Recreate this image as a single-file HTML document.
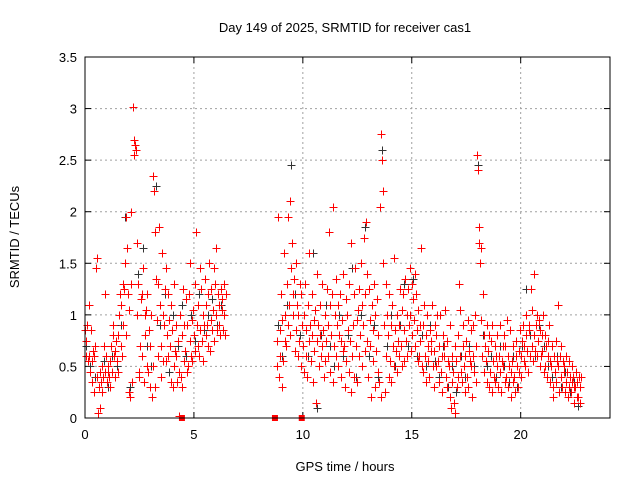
<!DOCTYPE html>
<html><head><meta charset="utf-8"><style>
body{margin:0;background:#fff}
svg{display:block;font-family:"Liberation Sans",sans-serif}
</style></head><body>
<svg id="chart" width="640" height="480" viewBox="0 0 640 480">
<rect width="640" height="480" fill="#fff"/>
<text x="345" y="32" font-size="13" text-anchor="middle">Day 149 of 2025, SRMTID for receiver cas1</text>
<text transform="translate(19,237) rotate(-90)" font-size="13" text-anchor="middle">SRMTID / TECUs</text>
<text x="345" y="471" font-size="13" text-anchor="middle">GPS time / hours</text>
<g id="grid"></g>
<g id="ticks"></g>
<g id="black-series"></g>
<g id="red-series"></g>
<rect x="85" y="57" width="525" height="361" fill="none" stroke="#000" stroke-width="1"/>
</svg>
<script>
const xTicks=[0,5,10,15,20];
const yTicks=[0,0.5,1,1.5,2,2.5,3,3.5];
const yTickLabels=["0","0.5","1","1.5","2","2.5","3","3.5"];
const redT=[0.0,0.1,0.2,0.3,0.4,0.5,0.6,0.7,0.8,0.9,1.0,1.1,1.2,1.3,1.4,1.5,1.6,1.7,1.8,1.9,2.0,2.1,2.2,2.3,2.4,2.5,2.6,2.7,2.8,2.9,3.0,3.1,3.2,3.3,3.4,3.5,3.6,3.7,3.8,3.9,4.0,4.1,4.2,4.3,4.4,4.5,4.6,4.7,4.8,4.9,5.0,5.1,5.2,5.3,5.4,5.5,5.6,5.7,5.8,5.9,6.0,6.1,6.2,6.3,6.4,
8.8,8.9,9.0,9.1,9.2,9.3,9.4,9.5,9.6,9.7,9.8,9.9,10.0,10.1,10.2,10.3,10.4,10.5,10.6,10.7,10.8,10.9,11.0,11.1,11.2,11.3,11.4,11.5,11.6,11.7,11.8,11.9,12.0,12.1,12.2,12.3,12.4,12.5,12.6,12.7,12.8,12.9,13.0,13.1,13.2,13.3,13.4,13.5,13.6,13.7,13.8,13.9,14.0,14.1,14.2,14.3,14.4,14.5,14.6,14.7,14.8,14.9,15.0,15.1,15.2,15.3,15.4,15.5,15.6,15.7,15.8,15.9,16.0,16.1,16.2,16.3,16.4,16.5,16.6,16.7,16.8,16.9,17.0,17.1,17.2,17.3,17.4,17.5,17.6,17.7,17.8,17.9,18.0,18.1,18.2,18.3,18.4,18.5,18.6,18.7,18.8,18.9,19.0,19.1,19.2,19.3,19.4,19.5,19.6,19.7,19.8,19.9,20.0,20.1,20.2,20.3,20.4,20.5,20.6,20.7,20.8,20.9,21.0,21.1,21.2,21.3,21.4,21.5,21.6,21.7,21.8,21.9,22.0,22.1,22.2,22.3,22.4,22.5,22.6,22.7];
const redV=[[0.85,0.6,0.75],[0.9,0.55,1.1],[0.6,0.45,0.85],[0.55,0.35,0.65],[0.6,0.25,0.7],[1.45,0.4,1.55],[0.05,0.3,0.1],[0.45,0.35,0.25],[0.5,0.4,0.7],[1.2,0.45,0.6],
[0.35,0.5,0.45],[0.4,0.55,0.3],[0.7,0.45,0.8],[0.9,0.6,0.4],[0.65,0.75,0.55],[0.8,0.45,1.0],[1.2,0.7,1.1],[0.6,1.3,0.9],[1.25,1.5,0.8],[1.95,1.65,1.2],
[0.25,1.05,0.2],[1.3,2.0,0.35],[3.02,2.7,2.55],[2.65,2.6,1.0],[1.7,1.3,0.45],[0.4,0.7,1.15],[1.2,0.6,1.45],[0.35,1.0,0.8],[1.05,0.5,1.2],[0.45,0.85,0.3],
[0.7,1.0,0.2],[2.35,0.5,2.2],[1.8,0.3,1.35],[0.95,1.3,0.6],[1.85,1.1,0.7],[0.4,1.6,0.55],[1.0,0.9,1.25],[0.55,1.45,0.8],[1.2,0.6,0.95],[0.7,0.35,1.1],
[0.85,0.3,0.5],[1.3,0.65,0.9],[0.6,0.35,0.75],[0.02,0.45,1.0],[0.4,0.8,0.3],[1.25,0.55,0.9],[0.65,1.15,0.45],[0.9,0.5,1.2],[1.5,0.75,0.6],[0.95,0.55,1.05],
[0.8,0.65,1.3],[1.8,0.9,0.7],[1.1,0.6,1.45],[0.85,1.25,0.75],[1.0,0.55,0.9],[1.35,0.8,1.1],[0.9,0.7,1.2],[1.5,0.65,0.95],[1.25,0.85,1.05],[1.45,0.75,1.3],
[1.65,1.0,0.85],[1.2,0.9,1.1],[0.8,1.25,1.05],[1.15,0.85,1.3],[1.0,0.8,1.2],
[0.75,0.5,1.95],[0.4,0.85,0.6],[1.2,0.3,0.95],[0.55,1.6,0.75],[1.0,0.7,1.3],[0.9,1.95,1.1],[2.1,0.8,1.45],[1.7,1.2,1.0],[1.35,0.65,1.5],[0.85,1.1,0.6],
[1.0,0.75,1.3],[0.5,1.2,0.9],[0.7,1.0,0.45],[1.3,0.6,0.85],[0.4,1.1,0.75],[1.6,0.9,0.55],[0.8,1.2,0.35],[0.65,0.95,1.05],[0.15,0.75,1.4],[0.9,0.5,0.8],
[1.1,0.6,1.3],[0.7,0.85,0.4],[1.0,0.55,0.75],[1.25,0.9,0.6],[1.8,0.45,1.1],[0.8,1.2,0.35],[2.05,0.7,1.0],[1.35,0.6,0.9],[0.5,1.1,0.8],[1.2,0.75,0.4],
[0.95,1.4,0.65],[0.7,0.3,1.15],[0.55,1.0,0.85],[1.3,0.45,0.75],[0.25,1.7,0.6],[0.9,1.2,0.4],[1.45,0.7,0.95],[0.35,1.05,0.6],[1.25,0.8,1.5],[0.5,1.1,0.9],
[1.75,0.65,1.2],[1.9,1.4,0.75],[0.4,1.25,0.95],[0.7,0.2,1.1],[0.85,0.55,1.3],[0.3,1.0,0.65],[1.15,0.45,0.8],[0.35,2.05,0.2],[2.75,2.5,2.2],[1.5,0.9,0.25],
[1.3,0.6,1.0],[0.8,0.4,1.2],[0.55,0.9,0.35],[1.1,0.7,0.5],[1.55,0.85,0.65],[0.45,1.0,0.75],[0.9,0.6,1.25],[0.7,1.05,0.5],[1.2,0.55,0.85],[1.35,0.75,1.0],
[0.6,1.25,0.9],[1.45,1.0,0.65],[1.3,0.8,1.15],[0.95,1.4,0.7],[1.2,0.85,0.55],[1.05,0.6,0.9],[0.75,1.65,0.5],[0.9,0.45,1.1],[0.6,0.8,0.35],[1.0,0.55,0.7],
[0.4,0.85,0.65],[0.75,1.1,0.5],[0.3,0.65,0.9],[0.8,0.5,1.0],[0.55,0.7,0.35],[1.0,0.45,0.6],[0.25,0.8,0.7],[0.6,1.05,0.4],[0.75,0.3,0.55],[0.5,0.9,0.2],
[0.1,0.6,0.35],[0.45,0.15,0.7],[0.05,0.55,0.3],[0.8,0.4,1.3],[0.6,1.05,0.45],[0.35,0.7,0.9],[0.5,0.25,0.6],[0.75,0.4,0.95],[0.3,0.65,0.55],[0.85,0.5,0.2],
[0.6,0.9,0.45],[1.0,0.35,0.7],[2.55,2.4,1.85],[1.7,1.5,0.95],[1.65,0.6,1.2],[0.8,0.45,0.7],[0.55,0.9,0.35],[0.65,0.3,0.8],[0.45,0.75,0.25],[0.9,0.55,0.4],
[0.35,0.7,0.6],[0.8,0.5,0.3],[0.6,0.9,0.45],[0.25,0.55,0.7],[0.5,0.8,0.35],[0.7,0.4,0.95],[0.3,0.6,0.5],[0.85,0.45,0.2],[0.55,0.7,0.35],[0.4,0.25,0.6],
[0.75,0.5,0.3],[0.45,0.65,0.85],[0.6,0.4,0.75],[0.9,0.55,0.7],[0.5,0.8,1.0],[0.65,0.45,0.9],[0.85,0.6,1.25],[0.7,1.05,0.55],[1.4,0.8,0.65],[0.9,0.6,1.0],
[0.75,0.95,0.5],[0.85,0.6,0.8],[0.65,1.0,0.45],[0.8,0.5,0.7],[0.4,0.75,0.6],[0.9,0.35,0.55],[0.5,0.7,0.3],[0.2,0.6,0.45],[0.75,0.35,0.55],[1.1,0.5,0.25],
[0.6,0.4,0.7],[0.3,0.55,0.45],[0.5,0.25,0.6],[0.35,0.45,0.2],[0.55,0.3,0.4],[0.25,0.5,0.35],[0.4,0.15,0.3],[0.3,0.45,0.2],[0.35,0.2,0.4],[0.15,0.3,0.4]];
const blackT=[0.05,0.25,0.45,0.65,0.85,1.05,1.25,1.45,1.65,1.85,2.05,2.25,2.45,2.65,2.85,3.05,3.25,3.45,3.65,3.85,4.05,4.25,4.45,4.65,4.85,5.05,5.25,5.45,5.65,5.85,6.05,6.25,
8.85,9.05,9.25,9.45,9.65,9.85,10.05,10.25,10.45,10.65,10.85,11.05,11.25,11.45,11.65,11.85,12.05,12.25,12.45,12.65,12.85,13.05,13.25,13.45,13.65,13.85,14.05,14.25,14.45,14.65,14.85,15.05,15.25,15.45,15.65,15.85,16.05,16.25,16.45,16.65,16.85,17.05,17.25,17.45,17.65,17.85,18.05,18.25,18.45,18.65,18.85,19.05,19.25,19.45,19.65,19.85,20.05,20.25,20.45,20.65,20.85,21.05,21.25,21.45,21.65,21.85,22.05,22.25,22.45,22.65];
const blackV=[0.7,0.5,0.4,0.3,0.55,0.3,0.6,0.5,0.9,1.95,0.3,2.7,1.4,1.65,0.7,0.5,2.25,0.9,1.2,0.45,1.0,0.7,1.1,0.6,1.0,0.75,1.2,0.85,1.0,1.15,0.9,1.1,
0.9,0.6,1.1,2.45,1.2,0.8,1.0,0.6,1.6,0.1,0.8,1.1,0.7,0.5,1.0,0.6,0.8,1.45,0.4,1.0,1.85,0.6,0.9,0.4,2.6,0.7,1.0,0.5,0.9,1.3,0.7,1.35,0.6,0.8,0.5,0.9,0.55,0.4,0.7,0.3,0.5,0.25,0.6,0.4,0.7,0.5,2.45,0.8,0.5,0.6,0.4,0.7,0.5,0.35,0.6,0.3,0.7,1.25,0.8,0.6,0.9,0.7,0.5,0.4,0.6,0.3,0.45,0.25,0.35,0.12];
const squareT=[4.45,8.72,9.95];
const squareV=[0,0,0];

const NS="http://www.w3.org/2000/svg";
const X0=85,X1=610,Y0=418,Y1=57,XMAX=24.1,YMAX=3.5;
function xs(t){return X0+t/XMAX*(X1-X0);}
function ys(v){return Y0-v/YMAX*(Y0-Y1);}
function mk(tag,attrs,parent){const e=document.createElementNS(NS,tag);for(const k in attrs)e.setAttribute(k,attrs[k]);parent.appendChild(e);return e;}
const grid=document.getElementById('grid'),ticks=document.getElementById('ticks');
xTicks.forEach(t=>{
  const x=xs(t);
  if(t>0){const g=mk('line',{x1:x,x2:x,y1:Y1,y2:Y0,stroke:'#a0a0a0','stroke-dasharray':'2,3'},grid);
  
  }
  mk('line',{x1:x,x2:x,y1:Y0,y2:Y0-6,stroke:'#000'},ticks);
  mk('line',{x1:x,x2:x,y1:Y1,y2:Y1+6,stroke:'#000'},ticks);
  const l=mk('text',{x:x,y:Y0+21,'font-size':13,'text-anchor':'middle'},ticks);
  l.textContent=t;
  
  
});
yTicks.forEach((v,i)=>{
  const y=ys(v);
  if(v>0&&v<YMAX){const g=mk('line',{x1:X0,x2:X1,y1:y,y2:y,stroke:'#a0a0a0','stroke-dasharray':'2,3'},grid);
  
  }
  mk('line',{x1:X0,x2:X0+6,y1:y,y2:y,stroke:'#000'},ticks);
  mk('line',{x1:X1,x2:X1-6,y1:y,y2:y,stroke:'#000'},ticks);
  const l=mk('text',{x:X0-8,y:y+5,'font-size':13,'text-anchor':'end'},ticks);
  l.textContent=yTickLabels[i];
  
  
});
function cross(g,t,v,color){
  const x=Math.round(xs(t))+0.5,y=Math.round(ys(v))+0.5;
  const p=mk('path',{d:`M${x-4} ${y}H${x+4}M${x} ${y-4}V${y+4}`,stroke:color,'stroke-width':1,fill:'none'},g);
  
  
}
const bg=document.getElementById('black-series');
blackT.forEach((t,i)=>cross(bg,t,blackV[i],'#333'));
const rg=document.getElementById('red-series');
const offs=[0,0.033,0.066];
redT.forEach((t,i)=>redV[i].forEach((v,j)=>cross(rg,t+offs[j],v,'#ff0000')));
squareT.forEach((t,i)=>{
  const s=mk('rect',{x:xs(t)-3,y:ys(squareV[i])-3,width:6,height:6,fill:'#ff0000'},rg);
  
  
});
</script>
</body></html>
